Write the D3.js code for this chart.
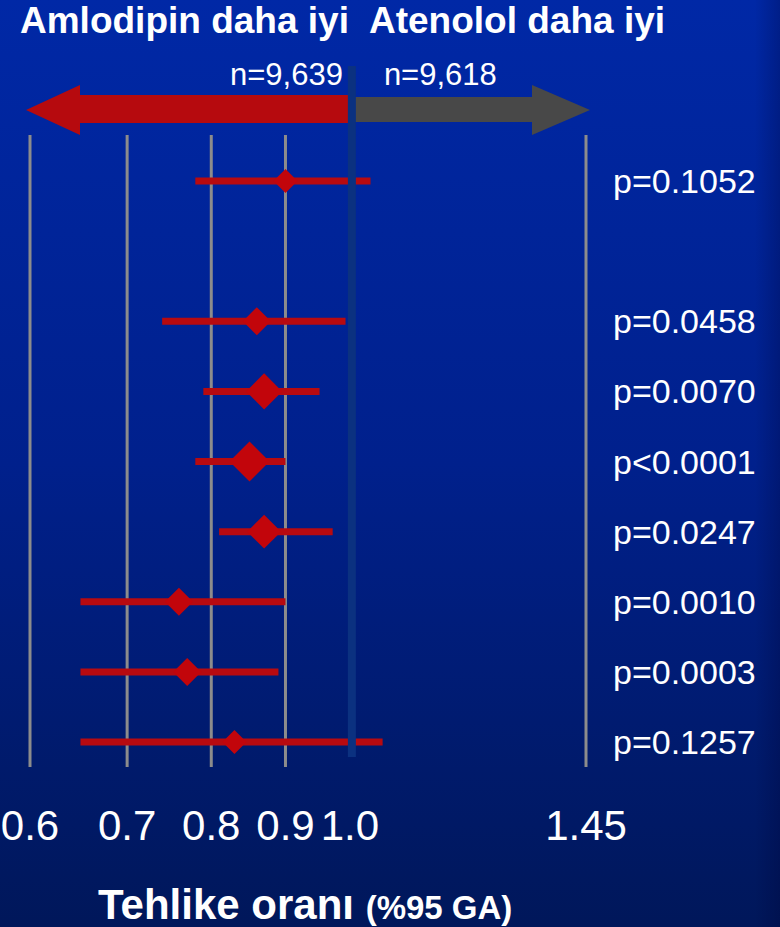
<!DOCTYPE html>
<html>
<head>
<meta charset="utf-8">
<script src="https://cdn.jsdelivr.net/npm/d3@7"></script>
<style>
  html, body { margin: 0; padding: 0; background: #001c70; }
  svg { display: block; font-family: "Liberation Sans", Arial, sans-serif; }
  .title { fill: #fff; font-weight: bold; font-size: 37px; }
  .n-label { fill: #fff; font-size: 31px; }
  .p-label { fill: #fff; font-size: 34px; }
  .tick-label { fill: #fff; font-size: 42px; }
  .axis-title { fill: #fff; font-weight: bold; }
</style>
</head>
<body>
<div class="container"></div>
<script>
const width = 780,
      height = 927;

// rows of the forest plot (top to bottom), "gap" is the empty slot after the first row
const rows = ["primary", "gap", "mi_chd", "coronary", "cv_events", "mortality", "cv_mortality", "stroke", "heart_failure"];
const endpoints = ["primary", "mi_chd", "coronary", "cv_events", "mortality", "cv_mortality", "stroke", "heart_failure"];
const hazard = [0.90, 0.86, 0.87, 0.85, 0.87, 0.76, 0.77, 0.83];
const ciLow = [0.78, 0.74, 0.79, 0.78, 0.81, 0.65, 0.65, 0.65];
const ciHigh = [1.03, 0.99, 0.95, 0.90, 0.97, 0.90, 0.89, 1.05];
const weights = [0.36, 0.49, 0.81, 1.0, 0.72, 0.49, 0.49, 0.36];
const pValues = ["p=0.1052", "p=0.0458", "p=0.0070", "p<0.0001", "p=0.0247", "p=0.0010", "p=0.0003", "p=0.1257"];

const ticks = [0.6, 0.7, 0.8, 0.9, 1.0, 1.45];
const tickLabels = ["0.6", "0.7", "0.8", "0.9", "1.0", "1.45"];

const groups = ["Amlodipin daha iyi", "Atenolol daha iyi"];
const groupN = ["n=9,639", "n=9,618"];

const data = endpoints.map((k, i) => ({
    key: k,
    hr: hazard[i],
    lo: ciLow[i],
    hi: ciHigh[i],
    w: weights[i],
    p: pValues[i]
}));

const svg = d3.select(".container")
    .append("svg")
    .attr("width", width)
    .attr("height", height);

const defs = svg.append("defs");

const bg = defs.append("linearGradient")
    .attr("id", "bg")
    .attr("x1", 0).attr("y1", 0)
    .attr("x2", 0).attr("y2", 1);
bg.append("stop").attr("offset", "0%").attr("stop-color", "#0028a6");
bg.append("stop").attr("offset", "50%").attr("stop-color", "#00208c");
bg.append("stop").attr("offset", "100%").attr("stop-color", "#00175a");

const edge = defs.append("linearGradient")
    .attr("id", "edge")
    .attr("x1", 0).attr("y1", 0)
    .attr("x2", 1).attr("y2", 0);
edge.append("stop").attr("offset", "0%").attr("stop-color", "#000030").attr("stop-opacity", 0);
edge.append("stop").attr("offset", "100%").attr("stop-color", "#000030").attr("stop-opacity", 0.25);

svg.append("rect")
    .attr("width", width)
    .attr("height", height)
    .attr("fill", "url(#bg)");

svg.append("rect")
    .attr("x", width - 25)
    .attr("width", 25)
    .attr("height", height)
    .attr("fill", "url(#edge)");

const xScale = d3.scaleLog()
    .domain([0.6, 1.45])
    .range([30, 586]);

const yScale = d3.scalePoint()
    .domain(rows)
    .range([181, 742]);

const size = d3.scaleSqrt()
    .domain([0, 1])
    .range([0, 20]);

// grid lines
svg.selectAll(".grid")
    .data(ticks.filter(t => t !== 1))
    .join("line")
    .classed("grid", true)
    .attr("x1", d => xScale(d))
    .attr("x2", d => xScale(d))
    .attr("y1", 135)
    .attr("y2", 767)
    .attr("stroke", "#8c8c8c")
    .attr("stroke-width", 3);

// arrows
const x1 = xScale(1);
const arrowY = 110;

svg.append("path")
    .attr("d", `M${x1 - 3},${arrowY - 15} L${xScale(0.6) + 50},${arrowY - 15} L${xScale(0.6) + 50},${arrowY - 25}
                L${xScale(0.6) - 4},${arrowY} L${xScale(0.6) + 50},${arrowY + 25} L${xScale(0.6) + 50},${arrowY + 13}
                L${x1 - 3},${arrowY + 13} Z`)
    .attr("fill", "#b60a0e");

svg.append("path")
    .attr("d", `M${x1 + 3},${arrowY - 13} L${xScale(1.45) - 54},${arrowY - 13} L${xScale(1.45) - 54},${arrowY - 25}
                L${xScale(1.45) + 4},${arrowY} L${xScale(1.45) - 54},${arrowY + 25} L${xScale(1.45) - 54},${arrowY + 12}
                L${x1 + 3},${arrowY + 12} Z`)
    .attr("fill", "#484848");

// confidence intervals
svg.selectAll(".ci")
    .data(data, d => d.key)
    .join("line")
    .classed("ci", true)
    .attr("x1", d => xScale(d.lo))
    .attr("x2", d => xScale(d.hi))
    .attr("y1", d => yScale(d.key))
    .attr("y2", d => yScale(d.key))
    .attr("stroke", "#b70a10")
    .attr("stroke-width", 7);

svg.selectAll(".point")
    .data(data, d => d.key)
    .join("path")
    .classed("point", true)
    .attr("d", d => d3.symbol(d3.symbolSquare, 2 * size(d.w) * size(d.w))())
    .attr("transform", d => `translate(${xScale(d.hr)}, ${yScale(d.key)}) rotate(45)`)
    .attr("fill", "#c2050b");

// line of no effect
svg.append("line")
    .attr("x1", x1)
    .attr("x2", x1)
    .attr("y1", 66)
    .attr("y2", 757)
    .attr("stroke", "#0b3180")
    .attr("stroke-width", 8);

// headers
svg.append("text")
    .classed("title", true)
    .attr("x", 20)
    .attr("y", 33)
    .text(groups[0]);

svg.append("text")
    .classed("title", true)
    .attr("x", 369)
    .attr("y", 33)
    .text(groups[1]);

svg.append("text")
    .classed("n-label", true)
    .attr("x", x1 - 9)
    .attr("y", 85)
    .attr("text-anchor", "end")
    .text(groupN[0]);

svg.append("text")
    .classed("n-label", true)
    .attr("x", x1 + 32)
    .attr("y", 85)
    .text(groupN[1]);

// p values
svg.selectAll(".p-label")
    .data(data, d => d.key)
    .join("text")
    .classed("p-label", true)
    .attr("x", 613)
    .attr("y", d => yScale(d.key) + 12)
    .text(d => d.p);

// x axis labels
svg.selectAll(".tick-label")
    .data(ticks)
    .join("text")
    .classed("tick-label", true)
    .attr("x", (d, i) => xScale(d) - (i === 4 ? 2 : 0))
    .attr("y", 840)
    .attr("text-anchor", "middle")
    .text((d, i) => tickLabels[i]);

const axisTitle = svg.append("text")
    .classed("axis-title", true)
    .attr("x", 98)
    .attr("y", 919);

axisTitle.append("tspan")
    .attr("font-size", 42)
    .text("Tehlike oranı ");

axisTitle.append("tspan")
    .attr("font-size", 33)
    .text("(%95 GA)");
</script>
</body>
</html>
